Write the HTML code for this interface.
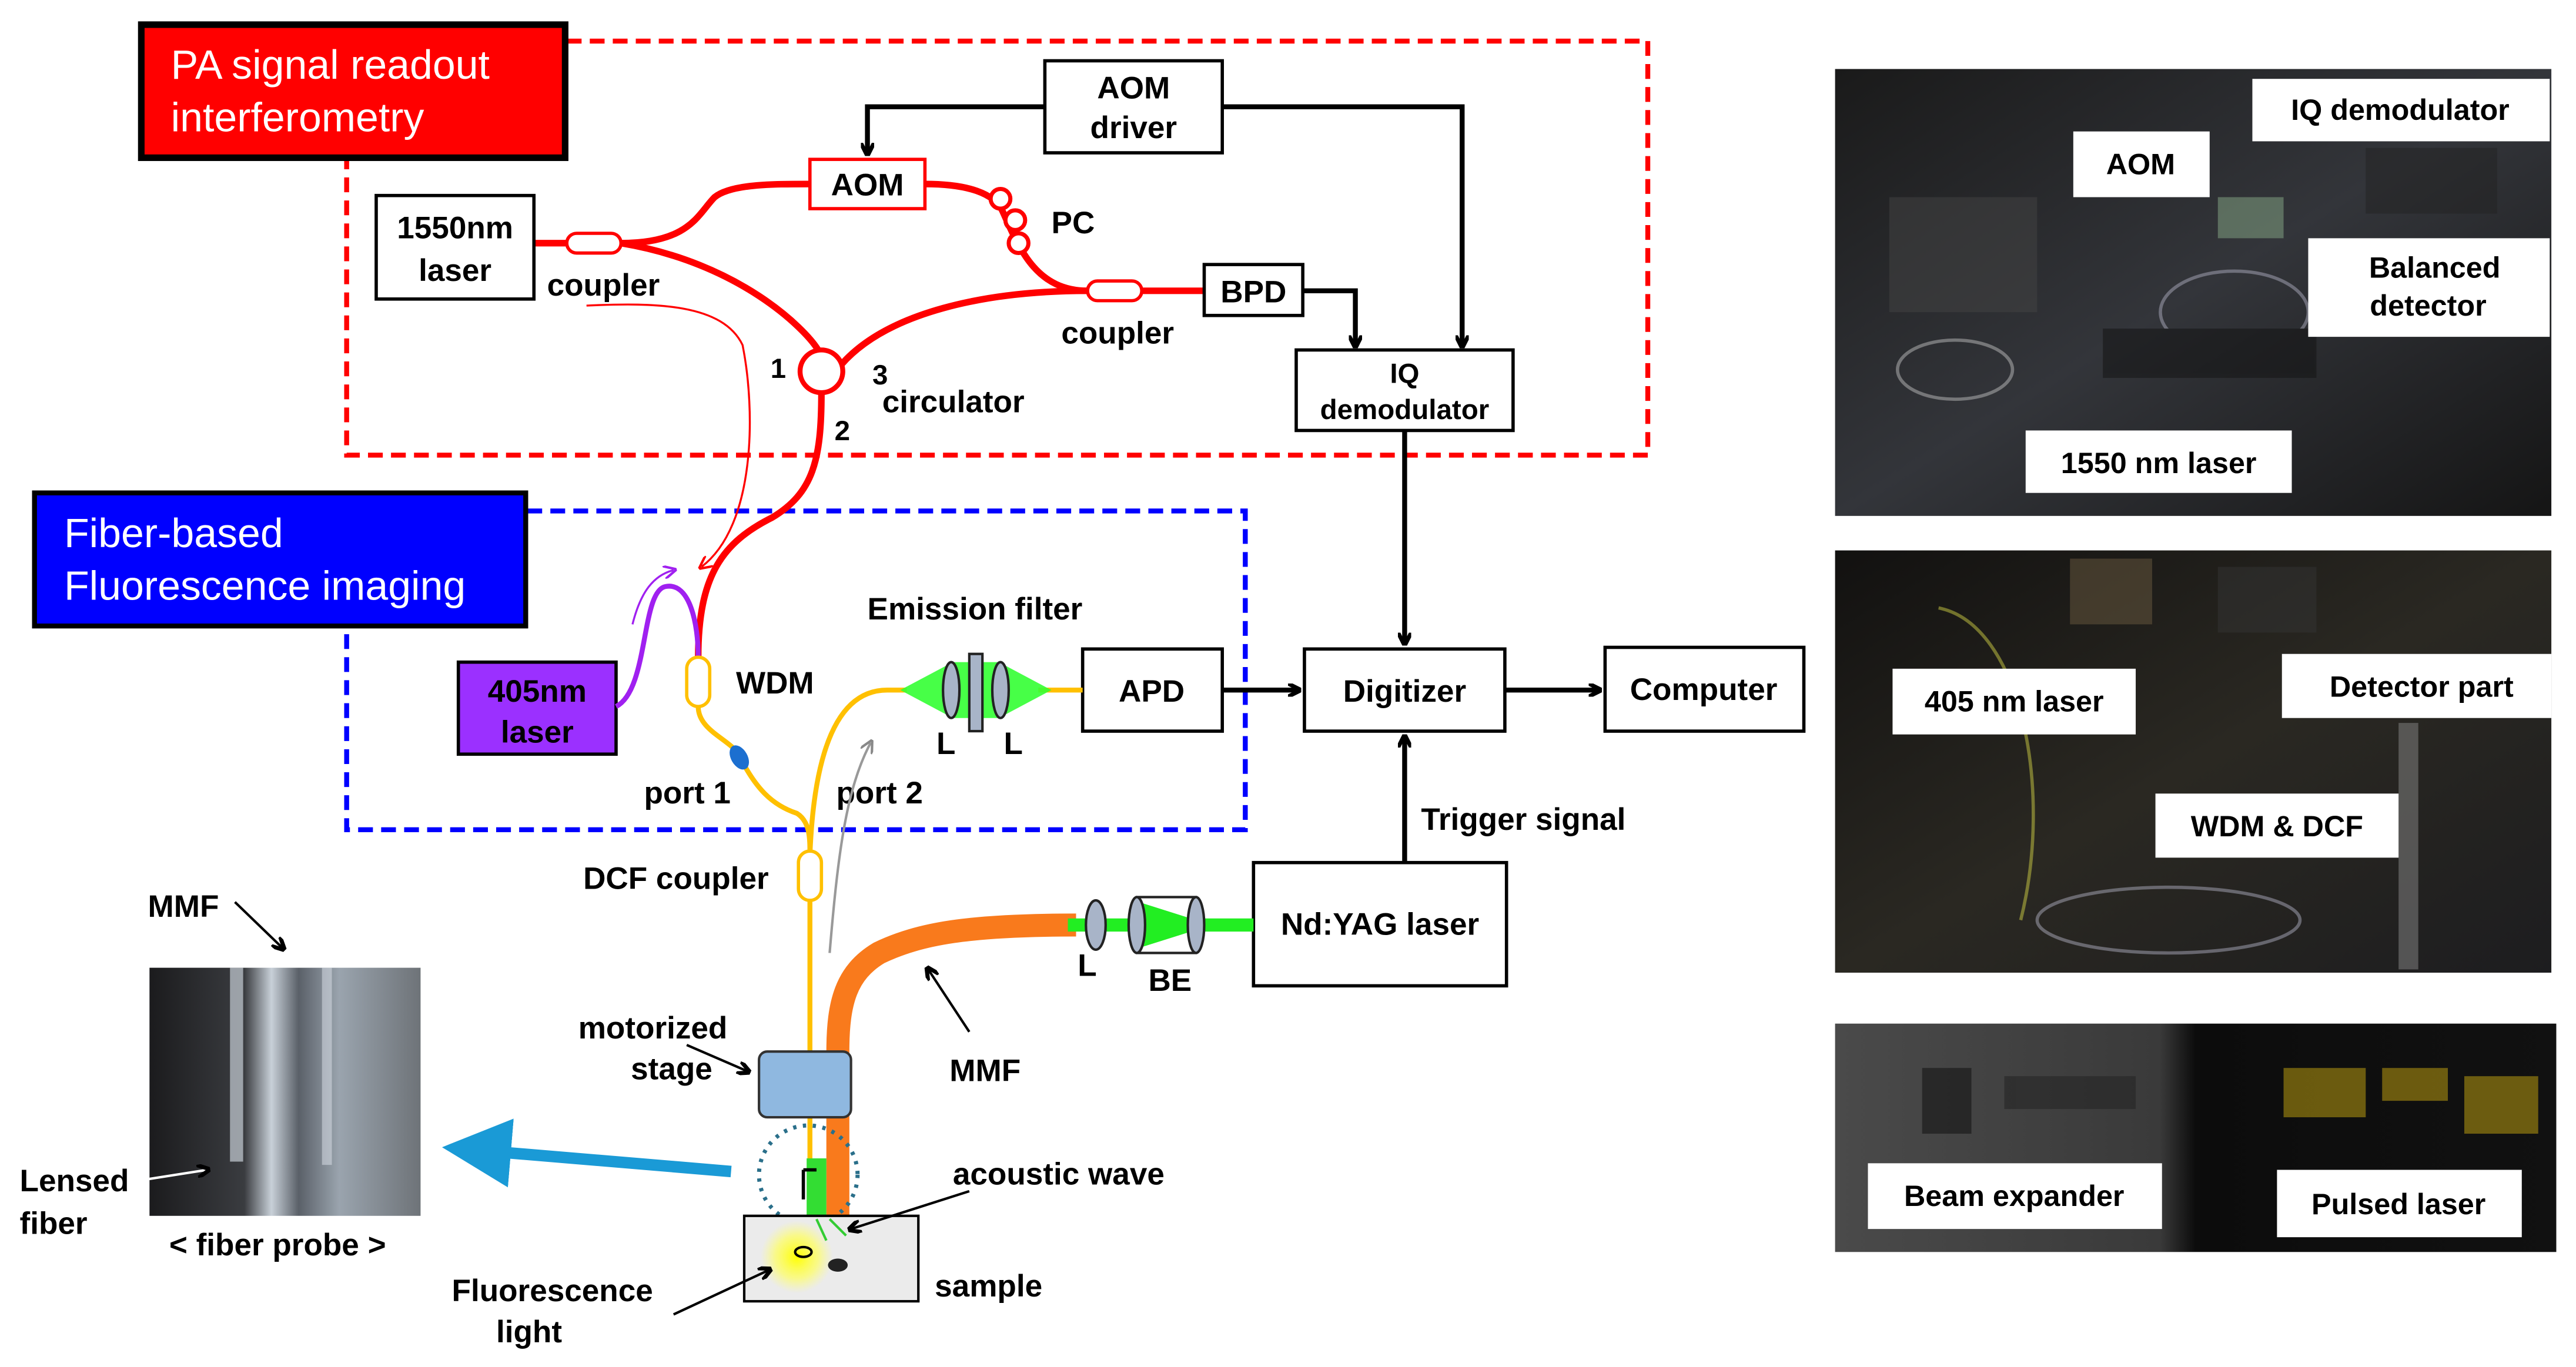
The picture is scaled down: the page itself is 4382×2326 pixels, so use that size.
<!DOCTYPE html>
<html><head><meta charset="utf-8"><style>
html,body{margin:0;padding:0;background:#fff;}
svg{display:block;}
text{font-family:"Liberation Sans",Arial,sans-serif;}
.b{font-weight:bold;fill:#000;}
</style></head><body>
<svg width="4382" height="2326" viewBox="0 0 1568 832" preserveAspectRatio="none" xmlns="http://www.w3.org/2000/svg">
<defs>
<marker id="ah" markerWidth="8" markerHeight="8" refX="6" refY="4" orient="auto" markerUnits="userSpaceOnUse"><path d="M0,0 L8,4 L0,8" fill="none" stroke="#000" stroke-width="2.5"/></marker>
<marker id="ahr" markerWidth="8" markerHeight="8" refX="6" refY="4" orient="auto" markerUnits="userSpaceOnUse"><path d="M0,0 L8,4 L0,8" fill="none" stroke="#f00" stroke-width="1.5"/></marker>
<marker id="ahp" markerWidth="8" markerHeight="8" refX="6" refY="4" orient="auto" markerUnits="userSpaceOnUse"><path d="M0,0 L8,4 L0,8" fill="none" stroke="#a020f0" stroke-width="1.5"/></marker>
<marker id="ahg" markerWidth="8" markerHeight="8" refX="6" refY="4" orient="auto" markerUnits="userSpaceOnUse"><path d="M0,0 L8,4 L0,8" fill="none" stroke="#888" stroke-width="1.5"/></marker>
<marker id="ahb" markerWidth="6" markerHeight="6" refX="3" refY="3" orient="auto"><path d="M0,0 L6,3 L0,6 z" fill="#1a9ad6"/></marker>
<linearGradient id="ph1" x1="0" y1="0" x2="1" y2="1"><stop offset="0" stop-color="#1a1a1a"/><stop offset="0.5" stop-color="#33353a"/><stop offset="1" stop-color="#151515"/></linearGradient>
<linearGradient id="ph2" x1="0" y1="0" x2="1" y2="1"><stop offset="0" stop-color="#121110"/><stop offset="0.5" stop-color="#2a2822"/><stop offset="1" stop-color="#1d1d1f"/></linearGradient>
<linearGradient id="ph3" x1="0" y1="0" x2="1" y2="0"><stop offset="0" stop-color="#4a4a4a"/><stop offset="0.45" stop-color="#3a3a3a"/><stop offset="0.5" stop-color="#0c0c0c"/><stop offset="1" stop-color="#111"/></linearGradient>
<linearGradient id="fp" x1="0" y1="0" x2="1" y2="0"><stop offset="0" stop-color="#1b1b1d"/><stop offset="0.35" stop-color="#3a3c40"/><stop offset="0.45" stop-color="#c8d0d8"/><stop offset="0.55" stop-color="#5a6068"/><stop offset="0.7" stop-color="#9aa4ae"/><stop offset="1" stop-color="#6e7378"/></linearGradient>
<radialGradient id="glow"><stop offset="0" stop-color="#ffff00"/><stop offset="0.6" stop-color="#ffff60" stop-opacity="0.7"/><stop offset="1" stop-color="#ffff80" stop-opacity="0"/></radialGradient>
</defs>

<path d="M345,25 H1003 V277 H211 V97" fill="none" stroke="#f00" stroke-width="3" stroke-dasharray="9,5"/>
<rect x="86" y="15" width="258" height="81" fill="#f00" stroke="#000" stroke-width="4"/>
<text x="104" y="48" font-size="25" fill="#fff">PA signal readout</text>
<text x="104" y="80" font-size="25" fill="#fff">interferometry</text>

<path d="M321,311 H758 V505 H211 V382" fill="none" stroke="#00f" stroke-width="3" stroke-dasharray="9,5"/>
<rect x="21" y="300" width="299" height="81" fill="#00f" stroke="#000" stroke-width="3"/>
<text x="39" y="333" font-size="25" fill="#fff">Fiber-based</text>
<text x="39" y="365" font-size="25" fill="#fff">Fluorescence imaging</text>

<rect x="636" y="37" width="108" height="56" fill="#fff" stroke="#000" stroke-width="2"/>
<text x="690" y="60" font-size="19" class="b" text-anchor="middle">AOM</text>
<text x="690" y="84" font-size="19" class="b" text-anchor="middle">driver</text>
<path d="M636,65 H528 V93" fill="none" stroke="#000" stroke-width="3" marker-end="url(#ah)"/>
<path d="M744,65 H890 V210" fill="none" stroke="#000" stroke-width="3" marker-end="url(#ah)"/>

<g fill="none" stroke="#f00" stroke-width="4">
<path d="M325,148 H345"/>
<path d="M378,148 C420,148 425,130 435,120 C445,112 470,112 493,112"/>
<path d="M378,148 C450,160 490,200 498,213"/>
<path d="M563,112 C590,112 605,118 610,128 C620,150 630,177 662,177"/>
<path d="M695,177 H733"/>
<path d="M512,222 C540,190 600,177 662,177"/>
<path d="M500,239 C500,280 495,300 470,315 C440,330 425,350 425,400"/>
</g>
<rect x="345" y="142" width="33" height="12" rx="6" fill="#fff" stroke="#f00" stroke-width="2"/>
<rect x="662" y="171" width="33" height="12" rx="6" fill="#fff" stroke="#f00" stroke-width="2"/>
<circle cx="500" cy="226" r="13" fill="#fff" stroke="#f00" stroke-width="3"/>
<circle cx="609" cy="121" r="6" fill="#fff" stroke="#f00" stroke-width="2.5"/>
<circle cx="618" cy="134" r="6" fill="#fff" stroke="#f00" stroke-width="2.5"/>
<circle cx="620" cy="148" r="6" fill="#fff" stroke="#f00" stroke-width="2.5"/>
<path d="M357,186 C400,184 440,185 452,210 C460,250 460,320 427,345" fill="none" stroke="#f00" stroke-width="1.2" marker-end="url(#ahr)"/>

<rect x="493" y="97" width="70" height="30" fill="#fff" stroke="#f00" stroke-width="2"/>
<text x="528" y="119" font-size="19" class="b" text-anchor="middle">AOM</text>
<rect x="229" y="119" width="96" height="63" fill="#fff" stroke="#000" stroke-width="2"/>
<text x="277" y="145" font-size="19" class="b" text-anchor="middle">1550nm</text>
<text x="277" y="171" font-size="19" class="b" text-anchor="middle">laser</text>
<text x="333" y="180" font-size="19" class="b">coupler</text>
<text x="640" y="142" font-size="19" class="b">PC</text>
<text x="646" y="209" font-size="19" class="b">coupler</text>
<text x="469" y="230" font-size="17" class="b">1</text>
<text x="531" y="234" font-size="17" class="b">3</text>
<text x="508" y="268" font-size="17" class="b">2</text>
<text x="537" y="251" font-size="19" class="b">circulator</text>

<rect x="733" y="161" width="60" height="31" fill="#fff" stroke="#000" stroke-width="2"/>
<text x="763" y="184" font-size="19" class="b" text-anchor="middle">BPD</text>
<path d="M793,177 H825 V210" fill="none" stroke="#000" stroke-width="3" marker-end="url(#ah)"/>
<rect x="789" y="213" width="132" height="49" fill="#fff" stroke="#000" stroke-width="2"/>
<text x="855" y="233" font-size="17" class="b" text-anchor="middle">IQ</text>
<text x="855" y="255" font-size="17" class="b" text-anchor="middle">demodulator</text>
<path d="M855,262 V391" fill="none" stroke="#000" stroke-width="3" marker-end="url(#ah)"/>

<rect x="794" y="395" width="122" height="50" fill="#fff" stroke="#000" stroke-width="2"/>
<text x="855" y="427" font-size="19" class="b" text-anchor="middle">Digitizer</text>
<rect x="977" y="394" width="121" height="51" fill="#fff" stroke="#000" stroke-width="2"/>
<text x="1037" y="426" font-size="19" class="b" text-anchor="middle">Computer</text>
<path d="M916,420 H973" fill="none" stroke="#000" stroke-width="3" marker-end="url(#ah)"/>
<rect x="659" y="395" width="85" height="50" fill="#fff" stroke="#000" stroke-width="2"/>
<text x="701" y="427" font-size="19" class="b" text-anchor="middle">APD</text>
<path d="M744,420 H790" fill="none" stroke="#000" stroke-width="3" marker-end="url(#ah)"/>
<rect x="763" y="525" width="154" height="75" fill="#fff" stroke="#000" stroke-width="2"/>
<text x="840" y="569" font-size="19" class="b" text-anchor="middle">Nd:YAG laser</text>
<path d="M855,525 V449" fill="none" stroke="#000" stroke-width="3" marker-end="url(#ah)"/>
<text x="865" y="505" font-size="19" class="b">Trigger signal</text>

<rect x="279" y="403" width="96" height="56" fill="#9b30ff" stroke="#000" stroke-width="2"/>
<text x="327" y="427" font-size="19" class="b" text-anchor="middle">405nm</text>
<text x="327" y="452" font-size="19" class="b" text-anchor="middle">laser</text>
<path d="M375,430 C395,420 390,360 405,357 C420,354 425,380 425,400" fill="none" stroke="#a020f0" stroke-width="3"/>
<path d="M385,380 C390,360 398,350 410,347" fill="none" stroke="#a020f0" stroke-width="1.2" marker-end="url(#ahp)"/>

<g fill="none" stroke="#ffc000" stroke-width="3">
<path d="M425,430 C425,445 445,450 450,460 C460,480 470,490 485,495 C493,500 493,510 493,520"/>
<path d="M493,546 V742"/>
<path d="M493,520 C495,470 505,420 540,420 H552"/>
<path d="M632,420 H659"/>
</g>
<rect x="418" y="400" width="14" height="30" rx="7" fill="#fff" stroke="#ffc000" stroke-width="2"/>
<ellipse cx="450" cy="461" rx="5" ry="8" fill="#1c6fd0" transform="rotate(-30 450 461)"/>
<rect x="486" y="518" width="14" height="30" rx="7" fill="#fff" stroke="#ffc000" stroke-width="2"/>
<text x="448" y="422" font-size="19" class="b">WDM</text>
<text x="392" y="489" font-size="19" class="b">port 1</text>
<text x="509" y="489" font-size="19" class="b">port 2</text>
<text x="355" y="541" font-size="19" class="b">DCF coupler</text>
<path d="M505,580 C510,520 515,480 530,452" fill="none" stroke="#999" stroke-width="1.5" marker-end="url(#ahg)"/>

<polygon points="548,420 580,403 608,403 640,420 608,437 580,437" fill="#33ff33" opacity="0.9"/>
<ellipse cx="579" cy="420" rx="5" ry="17" fill="#a8b4c8" stroke="#222" stroke-width="1.5"/>
<ellipse cx="609" cy="420" rx="5" ry="17" fill="#a8b4c8" stroke="#222" stroke-width="1.5"/>
<rect x="590" y="398" width="8" height="47" fill="#a8b4c8" stroke="#222" stroke-width="1.5"/>
<text x="528" y="377" font-size="19" class="b">Emission filter</text>
<text x="570" y="459" font-size="19" class="b">L</text>
<text x="611" y="459" font-size="19" class="b">L</text>

<path d="M655,563 C590,563 560,568 535,580 C515,592 510,610 510,640 V745" fill="none" stroke="#f97a1c" stroke-width="14"/>
<path d="M650,563 H763" stroke="#22ee22" stroke-width="8"/>
<polygon points="690,548 728,560 728,566 690,578" fill="#22ee22"/>
<ellipse cx="667" cy="563" rx="6" ry="15" fill="#a8b4c8" stroke="#222" stroke-width="1.5"/>
<rect x="692" y="546" width="36" height="34" fill="none" stroke="#222" stroke-width="1.5"/>
<ellipse cx="692" cy="563" rx="5" ry="17" fill="#a8b4c8" stroke="#222" stroke-width="1.5"/>
<ellipse cx="728" cy="563" rx="5" ry="17" fill="#a8b4c8" stroke="#222" stroke-width="1.5"/>
<text x="656" y="594" font-size="19" class="b">L</text>
<text x="699" y="603" font-size="19" class="b">BE</text>
<text x="578" y="658" font-size="19" class="b">MMF</text>
<path d="M590,628 L565,590" fill="none" stroke="#000" stroke-width="1.5" marker-end="url(#ah)"/>

<rect x="462" y="640" width="56" height="40" rx="5" fill="#8fb8e0" stroke="#333" stroke-width="1.5"/>
<text x="352" y="632" font-size="19" class="b">motorized</text>
<text x="384" y="657" font-size="19" class="b">stage</text>
<path d="M418,636 L455,652" fill="none" stroke="#000" stroke-width="1.5" marker-end="url(#ah)"/>
<path d="M497,705 V740" stroke="#33dd33" stroke-width="12"/>
<path d="M489,712 H497 M489,712 V730" stroke="#000" stroke-width="2" fill="none"/>
<circle cx="492" cy="715" r="30" fill="none" stroke="#2a6f8a" stroke-width="2.5" stroke-dasharray="2,4"/>
<path d="M445,713 L290,700" stroke="#1a9ad6" stroke-width="7" marker-end="url(#ahb)"/>
<rect x="453" y="740" width="106" height="52" fill="#ebebeb" stroke="#000" stroke-width="1.5"/>
<circle cx="485" cy="765" r="22" fill="url(#glow)"/>
<ellipse cx="489" cy="762" rx="5" ry="3" fill="none" stroke="#000" stroke-width="1.5"/>
<ellipse cx="510" cy="770" rx="6" ry="4" fill="#222"/>
<path d="M497,742 L503,755 M505,742 L515,752" stroke="#33cc33" stroke-width="1.5"/>
<text x="569" y="789" font-size="19" class="b">sample</text>
<text x="580" y="721" font-size="19" class="b">acoustic wave</text>
<path d="M590,725 L518,748" fill="none" stroke="#000" stroke-width="1.5" marker-end="url(#ah)"/>
<text x="275" y="792" font-size="19" class="b">Fluorescence</text>
<text x="302" y="817" font-size="19" class="b">light</text>
<path d="M410,800 L468,773" fill="none" stroke="#000" stroke-width="1.5" marker-end="url(#ah)"/>

<rect x="91" y="589" width="165" height="151" fill="url(#fp)"/>
<rect x="140" y="589" width="8" height="118" fill="#e0e8f0" opacity="0.6"/>
<rect x="196" y="589" width="6" height="120" fill="#dde4ec" opacity="0.5"/>
<text x="90" y="558" font-size="19" class="b">MMF</text>
<path d="M143,549 L172,577" fill="none" stroke="#000" stroke-width="1.5" marker-end="url(#ah)"/>
<text x="12" y="725" font-size="19" class="b">Lensed</text>
<text x="12" y="751" font-size="19" class="b">fiber</text>
<path d="M88,718 L126,712" fill="none" stroke="#fff" stroke-width="1.5" marker-end="url(#ah)"/>
<text x="103" y="764" font-size="19" class="b">&lt; fiber probe &gt;</text>

<!-- photos -->
<rect x="1117" y="42" width="436" height="272" fill="url(#ph1)"/>
<g opacity="0.5">
<ellipse cx="1190" cy="225" rx="35" ry="18" fill="none" stroke="#bbb" stroke-width="2"/>
<ellipse cx="1360" cy="190" rx="45" ry="25" fill="none" stroke="#aab" stroke-width="2"/>
<rect x="1280" y="200" width="130" height="30" fill="#111"/>
<rect x="1350" y="120" width="40" height="25" fill="#8a8" />
<rect x="1440" y="90" width="80" height="40" fill="#222"/>
<rect x="1150" y="120" width="90" height="70" fill="#444"/>
</g>
<rect x="1117" y="335" width="436" height="257" fill="url(#ph2)"/>
<g opacity="0.5">
<rect x="1260" y="340" width="50" height="40" fill="#6a5a40"/>
<rect x="1350" y="345" width="60" height="40" fill="#333"/>
<rect x="1460" y="440" width="12" height="150" fill="#888"/>
<ellipse cx="1320" cy="560" rx="80" ry="20" fill="none" stroke="#aab" stroke-width="2"/>
<path d="M1180,370 C1230,380 1250,480 1230,560" fill="none" stroke="#cc4" stroke-width="2"/>
</g>
<rect x="1117" y="623" width="439" height="139" fill="url(#ph3)"/>
<g opacity="0.55">
<rect x="1170" y="650" width="30" height="40" fill="#111"/>
<rect x="1220" y="655" width="80" height="20" fill="#222"/>
<rect x="1390" y="650" width="50" height="30" fill="#b89a10"/>
<rect x="1450" y="650" width="40" height="20" fill="#b89a10"/>
<rect x="1500" y="655" width="45" height="35" fill="#b89a10"/>
</g>
<g font-size="18" class="b">
<rect x="1371" y="48" width="181" height="38" fill="#fff"/><text x="1461" y="73" text-anchor="middle" class="b">IQ demodulator</text>
<rect x="1262" y="80" width="83" height="40" fill="#fff"/><text x="1303" y="106" text-anchor="middle" class="b">AOM</text>
<rect x="1405" y="145" width="147" height="60" fill="#fff"/><text x="1482" y="169" text-anchor="middle" class="b">Balanced</text><text x="1478" y="192" text-anchor="middle" class="b">detector</text>
<rect x="1233" y="262" width="162" height="38" fill="#fff"/><text x="1314" y="288" text-anchor="middle" class="b">1550 nm laser</text>
<rect x="1152" y="407" width="148" height="40" fill="#fff"/><text x="1226" y="433" text-anchor="middle" class="b">405 nm laser</text>
<rect x="1389" y="398" width="164" height="39" fill="#fff"/><text x="1474" y="424" text-anchor="middle" class="b">Detector part</text>
<rect x="1312" y="483" width="148" height="39" fill="#fff"/><text x="1386" y="509" text-anchor="middle" class="b">WDM &amp; DCF</text>
<rect x="1137" y="708" width="179" height="40" fill="#fff"/><text x="1226" y="734" text-anchor="middle" class="b">Beam expander</text>
<rect x="1386" y="712" width="149" height="41" fill="#fff"/><text x="1460" y="739" text-anchor="middle" class="b">Pulsed laser</text>
</g>
</svg>
</body></html>
